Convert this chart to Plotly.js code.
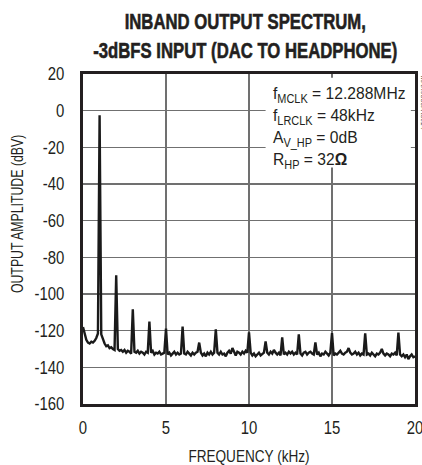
<!DOCTYPE html>
<html>
<head>
<meta charset="utf-8">
<script src="https://cdn.plot.ly/plotly-3.0.1.min.js"></script>
<style>
html,body{margin:0;padding:0;background:#fff;}
#chart{width:422px;height:465px;}
</style>
</head>
<body>
<div id="chart"></div>
<script>
var freqStartKHz = 0;
var freqStepKHz = 0.1;
var amplitudeDBV = [
  -118, -122, -125, -126.5, -127, -126, -126.5, -125.5, -124, -121.5,       // 0.0-0.9
  -2.5, -122, -125, -127, -128.5, -128, -129.5, -129, -130, -130.5,         // 1.0-1.9
  -89.8, -130, -131, -130.5, -131.5, -130.5, -132, -131, -131.5, -132.5,    // 2
  -108.4, -131.5, -132, -131, -132.5, -131.5, -132, -133, -131.5, -132,     // 3
  -115, -132, -131, -133, -132, -132.5, -131.5, -133, -132.5, -132,         // 4
  -118.8, -133, -132, -133.5, -132.5, -131.5, -133, -132, -133, -132.5,     // 5
  -117.7, -132.5, -133, -131.5, -132.5, -133.5, -132, -133, -132, -131.5,   // 6
  -126.5, -132, -133.5, -132.5, -134, -132, -133, -131.5, -133, -132,       // 7
  -119.3, -132, -133, -131.5, -133, -132.5, -134, -132, -131, -132.5,       // 8
  -129.5, -132, -133.5, -131.5, -132, -133, -131.5, -132.5, -131, -132,     // 9
  -120.9, -132, -133.5, -132.5, -134, -133, -132, -133.5, -132.5, -132,     // 10
  -125.8, -132, -133, -131.5, -132.5, -130.5, -132, -133, -132, -133.5,     // 11
  -123.6, -133, -132, -133, -131.5, -132.5, -131.5, -133, -132, -133,       // 12
  -122, -132.5, -133.5, -132, -131.5, -133, -132, -131.5, -132.5, -133,     // 13
  -126.4, -133, -132, -134, -132.5, -133, -131.5, -132.5, -133.5, -132,     // 14
  -121.3, -133.5, -132.5, -133, -132, -131, -132.5, -133, -132, -131.5,     // 15
  -129.5, -132, -133, -132.5, -131.5, -133, -132, -133.5, -132.5, -133,     // 16
  -121.5, -133, -132.5, -133.5, -132, -133, -134, -132.5, -133, -132,       // 17
  -130, -132.5, -133.5, -132.5, -133, -134, -132.5, -133, -132, -133.5,     // 18
  -121, -133, -134, -133, -134.5, -133, -135.5, -134, -133, -134.5,         // 19
  -134                                                                       // 20
];
var xTickVals = [0, 5, 10, 15, 20];
var xTickText = ["0", "5", "10", "15", "20"];
var yTickVals = [-160, -140, -120, -100, -80, -60, -40, -20, 0, 20];
var yTickText = ["-160", "-140", "-120", "-100", "-80", "-60", "-40", "-20", "0", "20"];
var conditionLines = [
  "f<sub>MCLK</sub> = 12.288MHz",
  "f<sub>LRCLK</sub> = 48kHz",
  "A<sub>V_HP</sub> = 0dB",
  "R<sub>HP</sub> = 32<b>Ω</b>"
];
var titleText = "<b>INBAND OUTPUT SPECTRUM,<br>-3dBFS INPUT (DAC TO HEADPHONE)</b>";
var xTitle = "FREQUENCY (kHz)";
var yTitle = "OUTPUT AMPLITUDE (dBV)";

var FONT = "'Liberation Sans', Arial, Helvetica, sans-serif";
var INK = "#231f20";

var trace = {
  type: "scatter",
  mode: "lines",
  x0: freqStartKHz,
  dx: freqStepKHz,
  y: amplitudeDBV,
  line: {color: "#1a1a1a", width: 2.4},
  hoverinfo: "skip"
};

var layout = {
  width: 422,
  height: 465,
  margin: {l: 83, r: 7, t: 74, b: 61, pad: 0},
  paper_bgcolor: "#ffffff",
  plot_bgcolor: "#ffffff",
  showlegend: false,
  font: {family: FONT, color: INK, size: 16},
  xaxis: {
    range: [0, 20],
    tickvals: xTickVals,
    ticktext: xTickText,
    ticks: "",
    ticklabelstandoff: 5,
    ticklabeloverflow: "allow",
    showgrid: true,
    gridcolor: "#707070",
    gridwidth: 1.4,
    zeroline: false,
    showline: true,
    mirror: true,
    linecolor: INK,
    linewidth: 3,
    tickfont: {family: FONT, size: 18, color: INK},
    title: {text: xTitle, font: {family: FONT, size: 16, color: INK}, standoff: 15}
  },
  yaxis: {
    range: [-160, 20],
    tickvals: yTickVals,
    ticktext: yTickText,
    ticks: "",
    ticklabelstandoff: 12,
    showgrid: true,
    gridcolor: "#707070",
    gridwidth: 1.4,
    zeroline: false,
    showline: true,
    mirror: true,
    linecolor: INK,
    linewidth: 3,
    tickfont: {family: FONT, size: 18, color: INK}
  },
  shapes: [
    {type: "rect", xref: "x", yref: "y", x0: 11.0, x1: 19.75, y0: -31, y1: 18,
     fillcolor: "#ffffff", line: {width: 0}, layer: "above"}
  ],
  annotations: [
    {
      xref: "paper", yref: "paper",
      x: 0.49, y: 1.116, xanchor: "center", yanchor: "middle",
      text: titleText,
      showarrow: false,
      font: {family: FONT, size: 22, color: INK}
    },
    {
      xref: "paper", yref: "paper",
      x: 0.565, y: 0.976, xanchor: "left", yanchor: "top",
      text: conditionLines.join("<br>"),
      align: "left",
      showarrow: false,
      font: {family: FONT, size: 17, color: INK}
    },
    {
      xref: "paper", yref: "paper",
      x: -0.196, y: 0.576, xanchor: "center", yanchor: "middle",
      text: yTitle,
      textangle: -90,
      showarrow: false,
      font: {family: FONT, size: 16, color: INK}
    },
    {
      xref: "paper", yref: "paper",
      x: 1.012, y: 1.0, xanchor: "left", yanchor: "top",
      text: "MAX9880A toc14",
      textangle: 90,
      showarrow: false,
      font: {family: FONT, size: 7, color: "#555555"}
    }
  ]
};

// Condense text horizontally (the reference uses a condensed typeface),
// keeping the given reference point of each text fixed.
function condense(el, sx, mode) {
  if (!el) return;
  var bb = el.getBBox();
  var ax = mode === "middle" ? bb.x + bb.width / 2 : (mode === "end" ? bb.x + bb.width : bb.x);
  var tr = el.getAttribute("transform") || "";
  el.setAttribute("transform", tr + " translate(" + ax + ",0) scale(" + sx + ",1) translate(" + (-ax) + ",0)");
}

Plotly.newPlot("chart", [trace], layout, {staticPlot: true, displayModeBar: false}).then(function (gd) {
  gd.querySelectorAll(".xtick text").forEach(function (t) { condense(t, 0.83, "middle"); });
  gd.querySelectorAll(".ytick text").forEach(function (t) { condense(t, 0.83, "end"); });
  condense(gd.querySelector("text.xtitle"), 0.85, "middle");
  var ann = gd.querySelectorAll("g.annotation");
  if (ann[0]) {
    var tt = ann[0].querySelector("text");
    condense(tt, 0.76, "middle");
    tt.style.stroke = INK;
    tt.style.strokeWidth = "0.6px";
  }
  if (ann[1]) condense(ann[1].querySelector("text"), 0.92, "start");
  if (ann[2]) condense(ann[2].querySelector("text"), 0.77, "middle");
});
</script>
</body>
</html>
